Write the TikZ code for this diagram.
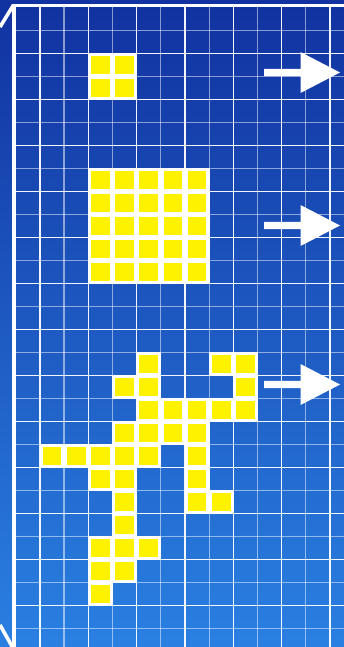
\documentclass[tikz,border=0pt]{standalone}
\begin{document}
\begin{tikzpicture}[x=1pt,y=-1pt,
  gridbright/.style={white,opacity=0.95,line width=1.3pt},
  gridfaint/.style={white,opacity=0.5,line width=1.3pt},
  frameline/.style={white,line width=3.6pt},
  cellback/.style={fill=white},
  cellface/.style={fill=yellow},
  bigarrow/.style={fill=white}]
\definecolor{bgtop}{RGB}{17,50,160}
\definecolor{bgbot}{RGB}{42,128,226}
\useasboundingbox (0,0) rectangle (344,647);
\shade[top color=bgtop,bottom color=bgbot] (0,0) rectangle (344,647);
% grid
\def\XO{15.8}\def\W{24.17}\def\YO{7.7}\def\H{23.0}
\foreach \k in {1,...,13}{
  \pgfmathsetmacro\xx{\XO+\W*\k}
  \pgfmathparse{int(mod(\k,2))}
  \ifnum\pgfmathresult=1
    \draw[gridbright] (\xx,6) -- (\xx,647);
  \else
    \draw[gridfaint] (\xx,6) -- (\xx,647);
  \fi
}
\foreach \k in {1,...,27}{
  \pgfmathsetmacro\yy{\YO+\H*\k}
  \pgfmathparse{int(mod(\k,2))}
  \ifnum\pgfmathresult=0
    \draw[gridbright] (14,\yy) -- (344,\yy);
  \else
    \draw[gridfaint] (14,\yy) -- (344,\yy);
  \fi
}
% frame
\draw[frameline] (13,5.5) -- (344,5.5);
\draw[frameline] (14.2,4) -- (14.2,647);
\draw[frameline] (13.5,5) -- (0,27);
\draw[frameline] (0,625) -- (13,648);
% cells
\foreach \c/\r in {3/2,4/2,3/3,4/3,
  3/7,4/7,5/7,6/7,7/7, 3/8,4/8,5/8,6/8,7/8, 3/9,4/9,5/9,6/9,7/9,
  3/10,4/10,5/10,6/10,7/10, 3/11,4/11,5/11,6/11,7/11,
  5/15,8/15,9/15, 4/16,5/16,9/16, 5/17,6/17,7/17,8/17,9/17,
  4/18,5/18,6/18,7/18, 1/19,2/19,3/19,4/19,5/19,7/19,
  3/20,4/20,7/20, 4/21,7/21,8/21, 4/22, 3/23,4/23,5/23, 3/24,4/24, 3/25}{
  \pgfmathsetmacro\xa{\XO+\W*\c}
  \pgfmathsetmacro\xb{\XO+\W*(\c+1)}
  \pgfmathsetmacro\ya{\YO+\H*\r}
  \pgfmathsetmacro\yb{\YO+\H*(\r+1)}
  \fill[cellback] (\xa-0.4,\ya-0.4) rectangle (\xb+0.4,\yb+0.4);
  \fill[cellface] (\xa+2.8,\ya+2.6) rectangle (\xb-2.8,\yb-2.6);
}
% arrows
\foreach \cy in {72.5,225.5,384.5}{
  \fill[bigarrow] (264,\cy-3.7) -- (300.5,\cy-3.7) -- (300.5,\cy-20.5) -- (340,\cy)
    -- (300.5,\cy+20.5) -- (300.5,\cy+3.7) -- (264,\cy+3.7) -- cycle;
}
\end{tikzpicture}
\end{document}
